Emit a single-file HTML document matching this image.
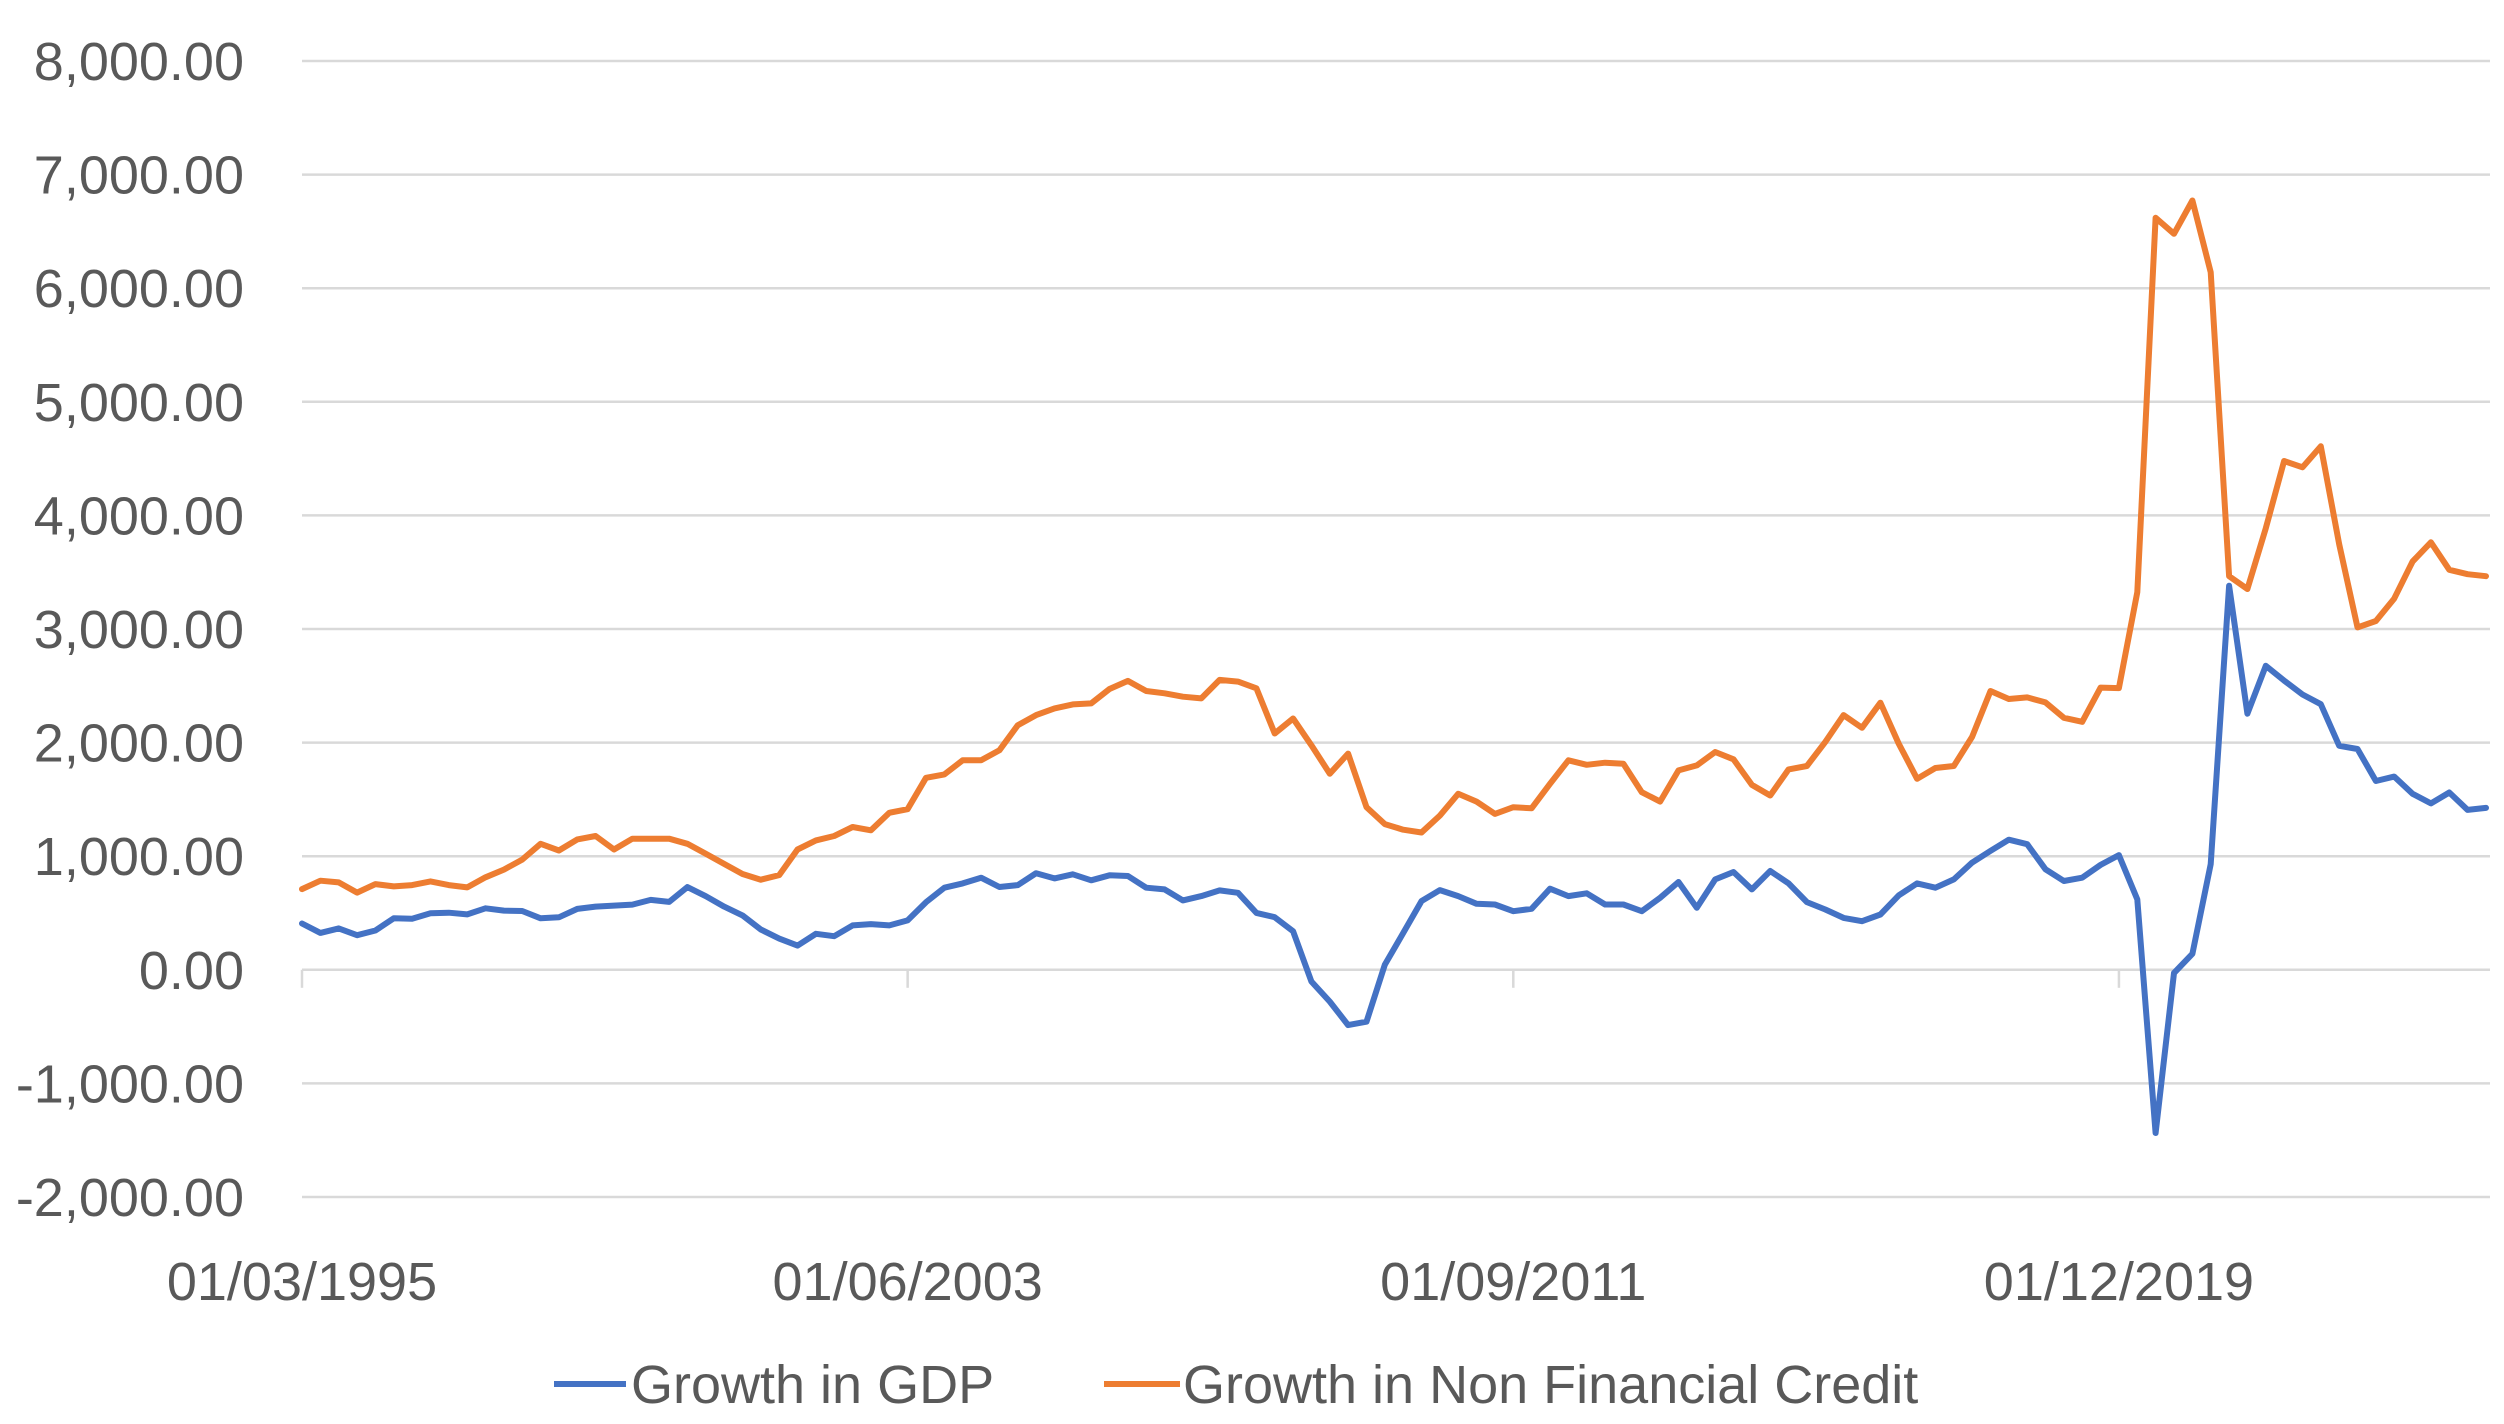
<!DOCTYPE html>
<html><head><meta charset="utf-8"><style>
html,body{margin:0;padding:0;background:#fff;}
svg text{font-family:"Liberation Sans",sans-serif;fill:#595959;}
</style></head><body>
<svg id="chart" width="2504" height="1419" viewBox="0 0 2504 1419" xmlns="http://www.w3.org/2000/svg">
<g id="grid"></g>
<g id="yticks"></g>
<g id="xaxis"></g>
<g id="series"></g>
<g id="legend">
  <g>
    <line x1="554" y1="1384" x2="626" y2="1384" stroke="#4472C4" stroke-width="6"/>
    <text x="631" y="1403" font-size="54">Growth in GDP</text>
  </g>
  <g>
    <line x1="1104" y1="1384" x2="1180" y2="1384" stroke="#ED7D31" stroke-width="6"/>
    <text x="1183" y="1403" font-size="54">Growth in Non Financial Credit</text>
  </g>
</g>
</svg>
<script>
const gdpValues = [408,325,364,305,346,453,450,497,503,488,
541,521,518,453,462,536,556,565,574,615,
598,728,648,556,479,355,275,213,317,296,
391,402,391,435,595,723,761,811,729,746,
850,805,841,788,832,826,723,708,611,649,
699,678,501,463,339,-103,-280,-487,-457,44,
324,605,702,649,581,575,516,537,714,649,
673,575,575,516,634,773,546,796,861,708,
870,761,596,531,457,428,487,655,761,723,
796,944,1047,1145,1106,885,782,811,923,1010,
620,-1437,-28,141,930,3380,2254,2676,2546,2423,
2338,1972,1944,1662,1701,1549,1465,1561,1408,1425];
const creditValues = [710,784,769,680,754,734,746,778,746,725,
814,882,970,1109,1050,1148,1178,1059,1154,1154,
1154,1109,1021,932,843,793,834,1059,1139,1178,
1257,1228,1382,1414,1690,1720,1844,1844,1932,2153,
2242,2301,2336,2345,2472,2543,2454,2434,2404,2389,
2552,2537,2478,2080,2212,1976,1726,1903,1431,1283,
1233,1209,1357,1549,1481,1372,1431,1422,1637,1844,
1805,1823,1814,1563,1481,1755,1799,1917,1853,1628,
1534,1764,1794,2006,2242,2130,2351,1991,1681,1776,
1794,2050,2454,2384,2398,2354,2218,2183,2484,2480,
3324,6620,6479,6772,6141,3465,3352,3887,4479,4423,
4608,3746,3014,3070,3268,3594,3763,3521,3482,3465];
const yTicks = [8000,7000,6000,5000,4000,3000,2000,1000,0,-1000,-2000];
const xTickLabels = ["01/03/1995","01/06/2003","01/09/2011","01/12/2019"];
const xTickEvery = 33;

const NS="http://www.w3.org/2000/svg";
const X0=302, X1=2486, Y_TOP=61, Y_BOT=1197, VMAX=8000, VMIN=-2000;
const n=gdpValues.length;
function xPos(i){return X0+(X1-X0)*i/(n-1);}
function yPos(v){return Y_TOP+(VMAX-v)/(VMAX-VMIN)*(Y_BOT-Y_TOP);}
function fmt(v){return v.toLocaleString("en-US",{minimumFractionDigits:2,maximumFractionDigits:2});}
function mk(tag,attrs,parent){const e=document.createElementNS(NS,tag);for(const k in attrs)e.setAttribute(k,attrs[k]);parent.appendChild(e);return e;}

const grid=document.getElementById("grid"), yt=document.getElementById("yticks"), xa=document.getElementById("xaxis"), ser=document.getElementById("series");
yTicks.forEach(v=>{
  const l=mk("line",{x1:X0,x2:2490,y1:yPos(v),y2:yPos(v),stroke:"#d9d9d9","stroke-width":2.5},grid);
  
  
  const t=mk("text",{x:244,y:yPos(v)+19,"font-size":54,"text-anchor":"end"},yt);
  
  
  t.textContent=fmt(v);
});
xTickLabels.forEach((lab,k)=>{
  const x=xPos(k*xTickEvery);
  const tk=mk("line",{x1:x,x2:x,y1:yPos(0),y2:yPos(0)+18,stroke:"#d9d9d9","stroke-width":2.5},xa);
  
  
  const t=mk("text",{x:x,y:1300,"font-size":54,"text-anchor":"middle"},xa);
  
  
  t.textContent=lab;
});
function drawLine(vals,color,name){
  const d=vals.map((v,i)=>(i?"L":"M")+xPos(i).toFixed(1)+","+yPos(v).toFixed(1)).join(" ");
  const p=mk("path",{d:d,fill:"none",stroke:color,"stroke-width":6,"stroke-linejoin":"round","stroke-linecap":"round"},ser);
  
  
}
drawLine(gdpValues,"#4472C4","gdp-growth-line");
drawLine(creditValues,"#ED7D31","credit-growth-line");
</script>
</body></html>
